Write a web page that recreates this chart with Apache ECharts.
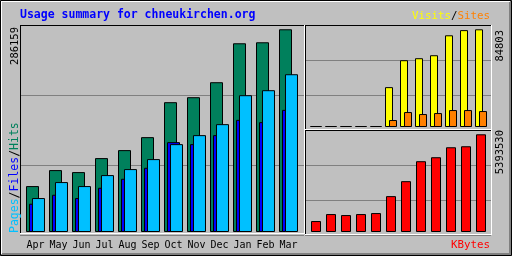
<!DOCTYPE html>
<html>
<head>
<meta charset="utf-8">
<script src="https://cdn.jsdelivr.net/npm/echarts@6/dist/echarts.min.js"></script>
<style>
  html, body { margin: 0; padding: 0; background: #c0c0c0; }
  #chart { width: 512px; height: 256px; }
</style>
</head>
<body>
<div id="chart"></div>
<script>
// usage summary, webalizer style: 3 panels
var months = ['Apr', 'May', 'Jun', 'Jul', 'Aug', 'Sep', 'Oct', 'Nov', 'Dec', 'Jan', 'Feb', 'Mar'];
var hits   = [64840, 87400, 84580, 104310, 115590, 133910, 183250, 190300, 211440, 266410, 267820, 286159];
var files  = [39900, 52600, 47930, 62450, 75130, 90640, 126860, 124040, 136730, 158300, 155060, 172400];
var pages  = [47930, 70480, 64840, 80350, 88800, 102900, 124040, 136730, 152240, 193110, 200160, 222720];
var visits = [0, 0, 0, 0, 0, 34610, 57980, 59710, 62300, 79610, 84100, 84803];
var sites  = [0, 0, 0, 0, 0, 6060, 12980, 11250, 12110, 14710, 14710, 13840];
var kbytes = [605400, 990650, 935600, 990650, 1045700, 1981300, 2806800, 3907600, 4127700, 4678100, 4733100, 5393530];

var maxHits = '286159', maxVisits = '84803', maxKb = '5393530';

var MONO = 'DejaVu Sans Mono';
var chart = echarts.init(document.getElementById('chart'), null, { renderer: 'canvas' });

function ln(x1, y1, x2, y2, c) {
  return { type: 'line', z: 20, silent: true,
    shape: { x1: x1, y1: y1, x2: x2, y2: y2 },
    style: { stroke: c, lineWidth: 1 } };
}

// frame grids only carry the gray grid lines
function frameY(idx) {
  return { gridIndex: idx, type: 'value', min: 0, max: 3, interval: 1,
    axisLine: { show: false }, axisTick: { show: false }, axisLabel: { show: false },
    splitLine: { lineStyle: { color: '#808080', width: 1 } } };
}
function frameX(idx) {
  return { gridIndex: idx, type: 'value', show: false };
}
function barY(idx, max) {
  return { gridIndex: idx, type: 'value', min: 0, max: max,
    axisLine: { show: false }, axisTick: { show: false }, axisLabel: { show: false },
    splitLine: { show: false } };
}
function barX(idx, labels) {
  return { gridIndex: idx, type: 'category', data: months,
    axisLine: { show: false }, axisTick: { show: false },
    axisLabel: { show: labels, color: '#000', fontFamily: MONO, fontSize: 10, margin: 8, interval: 0 },
    splitLine: { show: false } };
}
var bord = { borderColor: '#000', borderWidth: 1 };

chart.setOption({
  backgroundColor: '#c0c0c0',
  animation: false,
  grid: [
    { left: 20, top: 25, width: 284, height: 210 },      // main frame
    { left: 24, top: 25, width: 276, height: 207 },      // main bars
    { left: 305, top: 25, width: 186, height: 105 },     // visits frame
    { left: 308.5, top: 25, width: 180, height: 102 },   // visits bars
    { left: 305, top: 130, width: 186, height: 105 },    // kbytes frame
    { left: 308.5, top: 130, width: 180, height: 102 }   // kbytes bars
  ],
  xAxis: [frameX(0), barX(1, true), frameX(2), barX(3, false), frameX(4), barX(5, false)],
  yAxis: [frameY(0), barY(1, 292200), frameY(2), barY(3, 88535), frameY(4), barY(5, 5630900)],
  series: [
    { name: 'Hits', type: 'bar', xAxisIndex: 1, yAxisIndex: 1, data: hits,
      barWidth: 13, barGap: '-77%', itemStyle: Object.assign({ color: '#00805c' }, bord) },
    { name: 'Files', type: 'bar', xAxisIndex: 1, yAxisIndex: 1, data: files,
      barWidth: 13, barGap: '-77%', itemStyle: Object.assign({ color: '#0000ff' }, bord) },
    { name: 'Pages', type: 'bar', xAxisIndex: 1, yAxisIndex: 1, data: pages,
      barWidth: 13, barGap: '-77%', itemStyle: Object.assign({ color: '#00c0ff' }, bord) },
    { name: 'Visits', type: 'bar', xAxisIndex: 3, yAxisIndex: 3, data: visits,
      barWidth: 8, barGap: '-50%', barMinHeight: 1, itemStyle: Object.assign({ color: '#ffff00' }, bord) },
    { name: 'Sites', type: 'bar', xAxisIndex: 3, yAxisIndex: 3, data: sites,
      barWidth: 8, barGap: '-50%', barMinHeight: 1, itemStyle: Object.assign({ color: '#ff8000' }, bord) },
    { name: 'KBytes', type: 'bar', xAxisIndex: 5, yAxisIndex: 5, data: kbytes,
      barWidth: 10, itemStyle: Object.assign({ color: '#ff0000' }, bord) }
  ],
  graphic: [
    // outer 3d border
    { type: 'rect', z: 20, silent: true, shape: { x: 0.5, y: 0.5, width: 511, height: 255 },
      style: { fill: null, stroke: '#000', lineWidth: 1 } },
    ln(1, 1.5, 510, 1.5, '#fff'), ln(1.5, 1, 1.5, 254, '#fff'),
    ln(509.5, 2, 509.5, 255, '#808080'), ln(510.5, 1, 510.5, 255, '#808080'),
    ln(2, 253.5, 511, 253.5, '#808080'), ln(1, 254.5, 511, 254.5, '#808080'),
    // main panel
    ln(20, 25.5, 304, 25.5, '#000'), ln(20.5, 25, 20.5, 233, '#000'),
    ln(20, 233.5, 305, 233.5, '#fff'), ln(304.5, 25, 304.5, 234, '#fff'),
    // visits panel
    ln(305, 25.5, 491, 25.5, '#000'), ln(305.5, 25, 305.5, 129, '#000'),
    ln(305, 129.5, 492, 129.5, '#fff'), ln(491.5, 25, 491.5, 130, '#fff'),
    // kbytes panel
    ln(305, 130.5, 491, 130.5, '#000'), ln(305.5, 130, 305.5, 234, '#000'),
    ln(305, 234.5, 492, 234.5, '#fff'), ln(491.5, 130, 491.5, 235, '#fff'),
    // texts
    { type: 'text', z: 20, x: 20, y: 15, style: { text: 'Usage summary for chneukirchen.org',
      fill: '#0000ff', font: 'bold 11.5px "' + MONO + '"', verticalAlign: 'middle', align: 'left' } },
    { type: 'text', z: 20, x: 490, y: 16, style: { text: '{v|Visits}{s|/}{t|Sites}',
      align: 'right', verticalAlign: 'middle', font: '10.8px "' + MONO + '"',
      rich: { v: { fill: '#ffff00', font: '10.8px "' + MONO + '"' },
              s: { fill: '#000', font: '10.8px "' + MONO + '"' },
              t: { fill: '#ff8000', font: '10.8px "' + MONO + '"' } } } },
    { type: 'text', z: 20, x: 490, y: 245, style: { text: 'KBytes',
      fill: '#ff0000', font: '10.8px "' + MONO + '"', align: 'right', verticalAlign: 'middle' } },
    { type: 'text', z: 20, x: 15, y: 27, rotation: Math.PI / 2, style: { text: maxHits,
      fill: '#000', font: '10.5px "' + MONO + '"', align: 'right', verticalAlign: 'middle' } },
    { type: 'text', z: 20, x: 15, y: 233, rotation: Math.PI / 2, style: { text: '{p|Pages}{s|/}{f|Files}{s|/}{h|Hits}',
      align: 'left', verticalAlign: 'middle', font: '11.5px "' + MONO + '"',
      rich: { p: { fill: '#00c0ff', font: '11.5px "' + MONO + '"' },
              s: { fill: '#000', font: '11.5px "' + MONO + '"' },
              f: { fill: '#0000ff', font: '11.5px "' + MONO + '"' },
              h: { fill: '#00805c', font: '11.5px "' + MONO + '"' } } } },
    { type: 'text', z: 20, x: 500, y: 30, rotation: Math.PI / 2, style: { text: maxVisits,
      fill: '#000', font: '10.5px "' + MONO + '"', align: 'right', verticalAlign: 'middle' } },
    { type: 'text', z: 20, x: 500, y: 130, rotation: Math.PI / 2, style: { text: maxKb,
      fill: '#000', font: '10.5px "' + MONO + '"', align: 'right', verticalAlign: 'middle' } }
  ]
});
</script>
</body>
</html>
